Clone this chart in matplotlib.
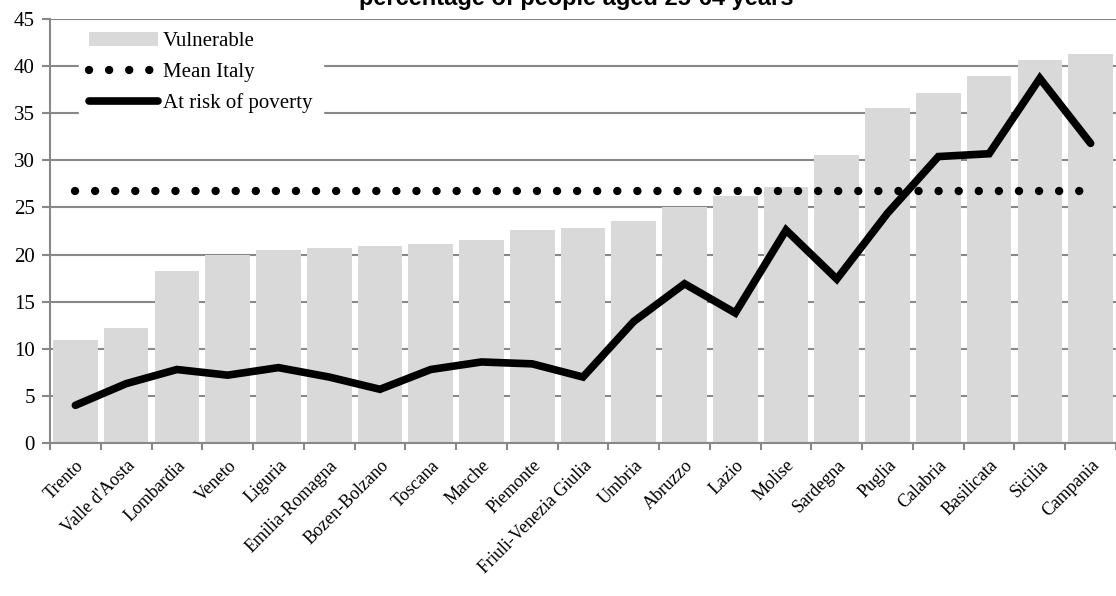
import matplotlib.pyplot as plt
import numpy as np

regions = ['Trento', "Valle d'Aosta", 'Lombardia', 'Veneto', 'Liguria',
           'Emilia-Romagna', 'Bozen-Bolzano', 'Toscana', 'Marche', 'Piemonte',
           'Friuli-Venezia Giulia', 'Umbria', 'Abruzzo', 'Lazio', 'Molise',
           'Sardegna', 'Puglia', 'Calabria', 'Basilicata', 'Sicilia', 'Campania']
vulnerable = [10.9, 12.2, 18.3, 19.9, 20.5, 20.7, 20.9, 21.1, 21.5, 22.6, 22.8,
              23.6, 25.1, 26.2, 27.2, 30.6, 35.6, 37.1, 39.0, 40.7, 41.3]
poverty = [4.0, 6.3, 7.8, 7.2, 8.0, 7.0, 5.7, 7.8, 8.6, 8.4, 7.0,
           12.9, 16.9, 13.8, 22.6, 17.4, 24.4, 30.4, 30.7, 38.7, 31.8]
mean_italy = 26.7

serif = ['Liberation Serif', 'DejaVu Serif']

fig = plt.figure(figsize=(11.16, 5.96), dpi=100)
ax = fig.add_axes([50 / 1116, 153 / 596, 1 - 50 / 1116, 424 / 596])

x = np.arange(len(regions))
bars = ax.bar(x, vulnerable, width=0.88, color='#d9d9d9', zorder=2)
dots, = ax.plot(x, [mean_italy] * len(x), color='black', linewidth=6,
                linestyle=(0, (0.01, 2.4)), dash_capstyle='round', zorder=3)
line, = ax.plot(x, poverty, color='black', linewidth=5.5, solid_joinstyle='miter',
                solid_capstyle='round', zorder=4)

ax.set_xlim(-0.5, len(x) - 0.5)
ax.set_ylim(0, 45)
ax.set_yticks(range(0, 46, 5))
ax.yaxis.grid(True, color='#888888', linewidth=1.5, zorder=0)
ax.set_axisbelow(True)

ax.set_xticks(np.arange(len(x) + 1) - 0.5, minor=False)
ax.set_xticklabels([])
ax.set_xticks(x, minor=True)
ax.set_xticklabels(regions, minor=True, rotation=45, ha='right',
                   rotation_mode='anchor', family=serif, fontsize=13)
ax.tick_params(axis='x', which='minor', length=0, pad=10)
ax.tick_params(axis='x', which='major', length=5, color='#888888', width=1.5)
ax.tick_params(axis='y', length=6, color='#888888', width=1.5, labelsize=15, pad=5)
for lab in ax.get_yticklabels():
    lab.set_family(serif)

for side in ['top', 'right']:
    ax.spines[side].set_visible(False)
for side in ['left', 'bottom']:
    ax.spines[side].set_color('#888888')
    ax.spines[side].set_linewidth(1.5)

leg = ax.legend([bars, dots, line], ['Vulnerable', 'Mean Italy', 'At risk of poverty'],
                loc='upper left', bbox_to_anchor=(0.025, 1.0), frameon=True,
                prop={'family': serif, 'size': 15}, handlelength=3.3,
                handletextpad=0.25, labelspacing=0.55, borderaxespad=0.1,
                borderpad=0.5)
leg.get_frame().set_edgecolor('white')
leg.get_frame().set_facecolor('white')
leg.get_frame().set_alpha(1)
leg.set_zorder(5)

fig.text(0.516, 1 - 5 / 596, 'percentage of people aged 25-64 years', ha='center',
         va='baseline', fontsize=17, fontweight='bold', family='Liberation Sans')

fig.savefig('out.png', dpi=100)
